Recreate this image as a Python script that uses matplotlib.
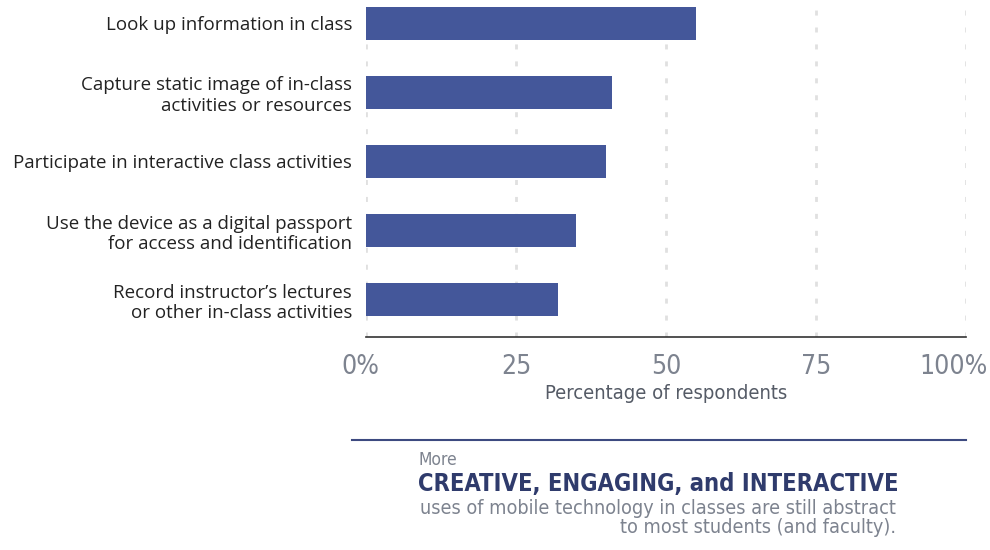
import matplotlib.pyplot as plt
from matplotlib.transforms import ScaledTranslation

# Data
categories = [
    "Look up information in class",
    "Capture static image of in-class\nactivities or resources",
    "Participate in interactive class activities",
    "Use the device as a digital passport\nfor access and identification",
    "Record instructor\u2019s lectures\nor other in-class activities",
]
values = [55, 41, 40, 35, 32]
tick_values = [0, 25, 50, 75, 100]
tick_labels = ["0%", "25", "50", "75", "100%"]

narrow = dict(family="DejaVu Sans", stretch="condensed")

bar_color = "#44579a"
navy = "#2f3b6c"
gray = "#7d838f"

fig = plt.figure(figsize=(9.9, 5.5), dpi=100)
ax = fig.add_axes([366 / 990, 213 / 550, 600 / 990, 337 / 550])

y = list(range(len(categories)))
ax.barh(y, values, height=0.478, color=bar_color, zorder=3)
ax.set_xlim(0, 100)
ax.set_ylim(4.543, -0.34)

for t in tick_values:
    ax.axvline(t, color="#e0e0e0", linestyle=(0, (1.8, 4.3)), linewidth=2, zorder=1)

ax.set_yticks(y)
ax.set_yticklabels(categories, fontsize=13.5, family="Open Sans", color="#222222",
                   linespacing=1.2)
ax.tick_params(axis="y", length=0, pad=10)
ax.set_xticks(tick_values)
ax.set_xticklabels(tick_labels, fontsize=19, color=gray, **narrow)
ax.tick_params(axis="x", length=0, pad=12)
# nudge the end labels like the original
xl = ax.get_xticklabels()
xl[0].set_transform(xl[0].get_transform() + ScaledTranslation(-6 / 100, 0, fig.dpi_scale_trans))
xl[-1].set_transform(xl[-1].get_transform() + ScaledTranslation(-13 / 100, 0, fig.dpi_scale_trans))
ax.set_xlabel("Percentage of respondents", fontsize=14.5, color="#555b66",
              labelpad=3, **narrow)

for s in ["top", "right", "left"]:
    ax.spines[s].set_visible(False)
ax.spines["bottom"].set_color("#333333")
ax.spines["bottom"].set_linewidth(1.2)

# Callout below chart
fig.add_artist(plt.Line2D([352 / 990, 966 / 990], [1 - 440 / 550, 1 - 440 / 550],
                          color="#3d4a80", linewidth=1.5))
fig.text(418 / 990, 1 - 460 / 550, "More", fontsize=12.5, color=gray,
         va="center", ha="left", **narrow)
fig.text(418 / 990, 1 - 484 / 550, "CREATIVE, ENGAGING, and INTERACTIVE", fontsize=17,
         weight="bold", color=navy, va="center", ha="left", **narrow)
fig.text(896 / 990, 1 - 518 / 550,
         "uses of mobile technology in classes are still abstract\nto most students (and faculty).",
         fontsize=14.2, color=gray, va="center", ha="right", linespacing=0.98, **narrow)

fig.savefig("out.png", dpi=100)
